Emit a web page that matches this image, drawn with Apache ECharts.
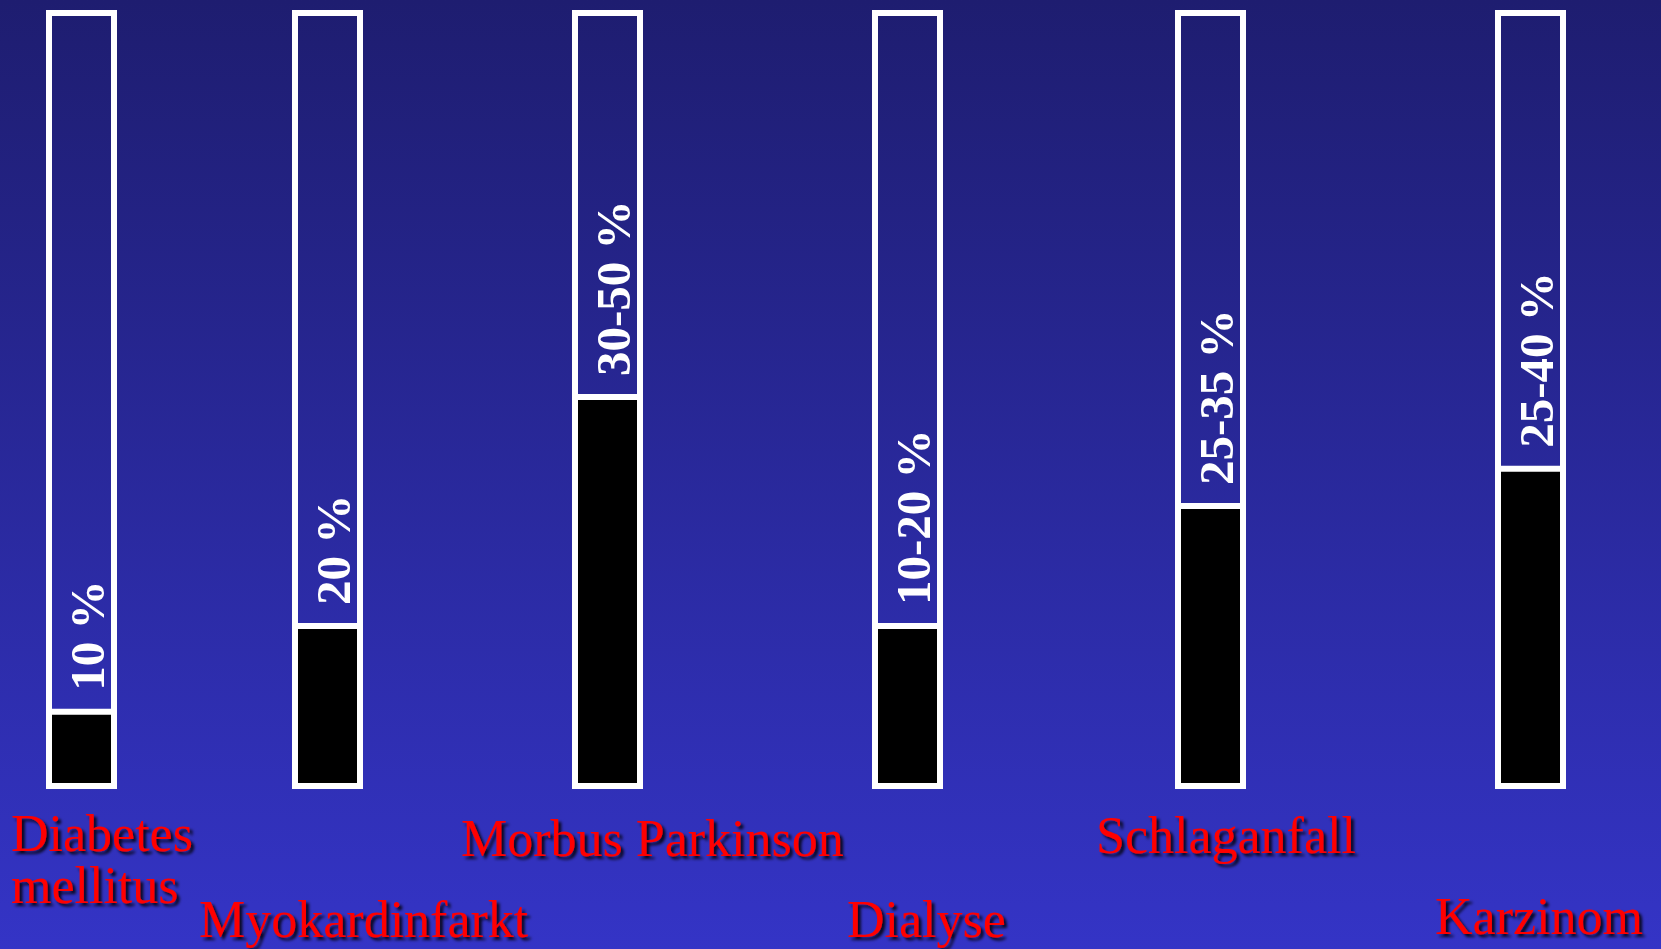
<!DOCTYPE html>
<html>
<head>
<meta charset="utf-8">
<title>Erkrankungen</title>
<script src="https://cdn.jsdelivr.net/npm/echarts@6.0.0/dist/echarts.min.js"></script>
<style>
html, body { margin: 0; padding: 0; }
#chart { width: 1661px; height: 949px; }
</style>
</head>
<body>
<div id="chart"></div>
<script>
// Erkrankungen (Beschriftung unten)
const categories = ['Diabetes\nmellitus', 'Myokardinfarkt', 'Morbus Parkinson', 'Dialyse', 'Schlaganfall', 'Karzinom'];
// Text in den Röhren
const rangeLabels = ['10 %', '20 %', '30-50 %', '10-20 %', '25-35 %', '25-40 %'];
// Füllhöhe der schwarzen Säule
const fillValues = [10.3, 21.3, 50.7, 21.3, 36.7, 41.5];
const tubeMax = 100;

// Lage der Röhren und Namen (Pixel)
const tubeLeft = [46, 292, 572, 872, 1175, 1495];
const tubeWidth = 71;
const nameLeft = [11, 199, 461, 847, 1096, 1435];
const nameMiddle = [859, 919, 838, 919, 835, 916];

let myChart = echarts.init(document.getElementById('chart'), null, { renderer: 'svg' });

let grids = [], xAxes = [], yAxes = [], series = [];
for (let i = 0; i < categories.length; i++) {
  grids.push({ left: tubeLeft[i], width: tubeWidth, top: 10, bottom: 160 });
  xAxes.push({ type: 'category', gridIndex: i, data: [categories[i]], show: false });
  yAxes.push({ type: 'value', gridIndex: i, min: 0, max: tubeMax, show: false });
  // leere Röhre
  series.push({
    type: 'bar', xAxisIndex: i, yAxisIndex: i,
    data: [tubeMax], barWidth: '100%', barGap: '-100%', silent: true, z: 1,
    itemStyle: { color: 'rgba(0,0,0,0)', borderColor: '#fff', borderWidth: 6 }
  });
  // schwarze Füllung
  series.push({
    type: 'bar', xAxisIndex: i, yAxisIndex: i,
    data: [fillValues[i]], barWidth: '100%', barGap: '-100%', silent: true, z: 2,
    itemStyle: { color: '#000', borderColor: '#fff', borderWidth: 6 },
    label: {
      show: true,
      position: 'top',
      rotate: 90,
      align: 'left',
      verticalAlign: 'middle',
      distance: 18,
      offset: [0, 6],
      formatter: rangeLabels[i],
      color: '#fff',
      fontFamily: 'Liberation Serif',
      fontWeight: 'bold',
      fontSize: 49
    }
  });
}

let option = {
  backgroundColor: {
    type: 'linear', x: 0, y: 0, x2: 0, y2: 1,
    colorStops: [{ offset: 0, color: '#1e1d70' }, { offset: 1, color: '#3434c6' }]
  },
  animation: false,
  grid: grids,
  xAxis: xAxes,
  yAxis: yAxes,
  series: series,
  graphic: categories.map(function (name, i) {
    return {
      type: 'text',
      x: nameLeft[i],
      y: nameMiddle[i],
      silent: true,
      style: {
        text: name,
        fill: '#ff0000',
        fontFamily: 'Liberation Serif',
        fontSize: 52,
        lineHeight: 52,
        align: 'left',
        verticalAlign: 'middle',
        textShadowColor: 'rgba(0,0,0,0.85)',
        textShadowBlur: 3,
        textShadowOffsetX: 3,
        textShadowOffsetY: 3
      }
    };
  })
};
myChart.setOption(option);
</script>
</body>
</html>
